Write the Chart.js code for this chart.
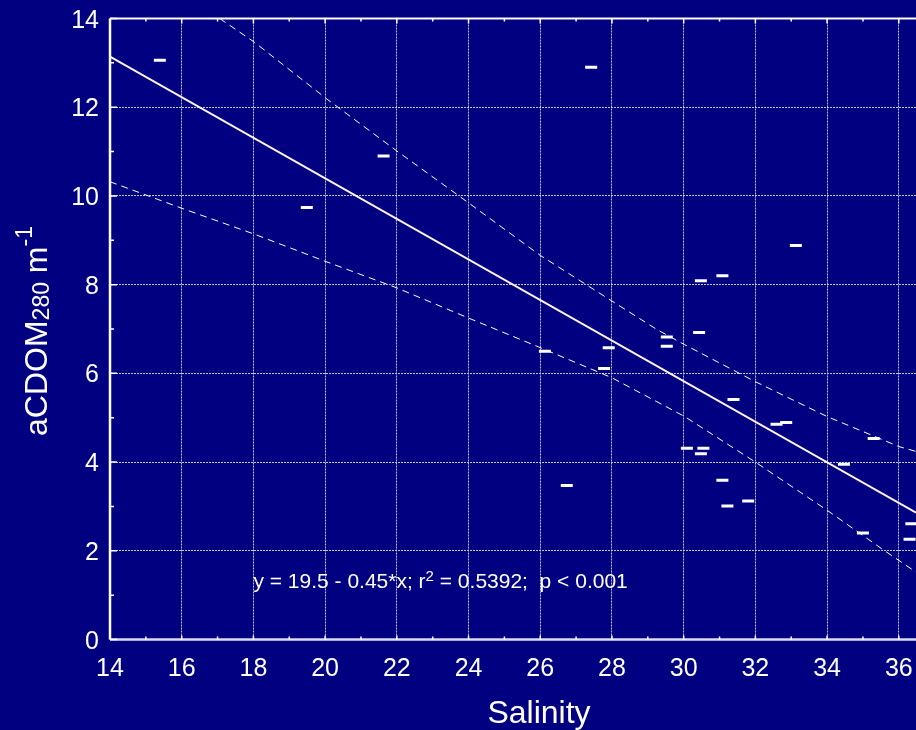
<!DOCTYPE html>
<html lang="en">
<head>
<meta charset="UTF-8">
<title>aCDOM280 vs Salinity</title>
<script src="https://cdn.jsdelivr.net/npm/chart.js"></script>
<style>
  html, body { margin: 0; padding: 0; background: #000080; }
  #chart { display: block; }
</style>
</head>
<body>
<canvas id="chart" width="916" height="730"></canvas>
<script>
// observed stations: salinity and aCDOM280 (m-1)
const salinity = [15.39, 19.49, 21.63, 27.42, 26.13, 26.74, 27.78, 27.91, 29.53, 29.53,
                  30.43, 30.48, 31.08, 33.13, 30.09, 30.55, 30.48, 31.39, 32.59, 32.86,
                  31.08, 31.22, 31.80, 35.30, 34.47, 35.00, 36.35, 36.30];
const acdom    = [13.06, 9.74, 10.90, 12.90, 6.50, 3.47, 6.11, 6.58, 6.82, 6.61,
                  6.92, 8.09, 8.20, 8.88, 4.31, 4.31, 4.19, 5.41, 4.85, 4.89,
                  3.59, 3.01, 3.12, 4.53, 3.95, 2.40, 2.61, 2.26];

// regression line (y = 19.5 - 0.45*x), end points
const fitX = [14, 36.48];
const fitY = [13.14, 2.86];

// 95% confidence band
const upperX = [17.06, 18.02, 20.04, 21.99, 23.99, 26.0, 28.0, 29.25, 30.02, 31.98, 33.99, 36.0, 36.48];
const upperY = [14.0, 13.47, 12.19, 11.02, 9.85, 8.66, 7.63, 6.99, 6.65, 5.82, 5.03, 4.35, 4.24];
const lowerX = [14.0, 16.01, 18.02, 19.99, 21.99, 23.99, 26.0, 28.0, 30.02, 31.98, 33.99, 35.57, 36.48];
const lowerY = [10.32, 9.72, 9.14, 8.53, 7.93, 7.25, 6.58, 5.90, 5.03, 4.01, 2.92, 2.02, 1.52];

// axes
const xTicks = [14, 16, 18, 20, 22, 24, 26, 28, 30, 32, 34, 36];
const yTicks = [0, 2, 4, 6, 8, 10, 12, 14];
const xMinor = [15, 17, 19, 21, 23, 25, 27, 29, 31, 33, 35];
const yMinor = [1, 3, 5, 7, 9, 11, 13];

// texts
const xTitle = 'Salinity';
const yTitle = [['aCDOM', 0], ['280', 1], [' m', 0], ['-1', 2]]; // 0 normal, 1 sub, 2 sup
const fitLabel = [['y = 19.5 - 0.45*x; r', 0], ['2', 2], [' = 0.5392;  p < 0.001', 0]];

const FONT = '"Liberation Sans", Arial, sans-serif';

function pts(xs, ys) {
    return xs.map((v, i) => ({ x: v, y: ys[i] }));
}

// draw a run of normal / sub / sup pieces, returns width
function runs(ctx, parts, x, y, size, small, subDy, supDy, measureOnly) {
    let w = 0;
    parts.forEach(([t, kind]) => {
        ctx.font = (kind ? small : size) + 'px ' + FONT;
        const dy = kind === 1 ? subDy : kind === 2 ? supDy : 0;
        if (!measureOnly) ctx.fillText(t, x + w, y + dy);
        w += ctx.measureText(t).width;
    });
    return w;
}

const decor = {
    id: 'decor',
    afterDraw(chart) {
        const { ctx, chartArea: a, scales: { x, y } } = chart;
        ctx.save();

        // frame
        ctx.strokeStyle = '#ffffff';
        ctx.lineWidth = 2;
        ctx.beginPath();
        ctx.moveTo(a.right, a.top);
        ctx.lineTo(a.left, a.top);
        ctx.stroke();
        ctx.lineWidth = 2.5;
        ctx.beginPath();
        ctx.moveTo(a.left, a.top);
        ctx.lineTo(a.left, a.bottom);
        ctx.stroke();
        ctx.strokeStyle = '#dcdcf0';
        ctx.beginPath();
        ctx.moveTo(a.left, a.bottom);
        ctx.lineTo(a.right, a.bottom);
        ctx.stroke();

        // inward ticks
        ctx.strokeStyle = '#ffffff';
        ctx.lineWidth = 1.5;
        ctx.beginPath();
        xTicks.concat(xMinor).forEach(v => {
            const px = x.getPixelForValue(v);
            const major = xTicks.includes(v);
            ctx.moveTo(px, a.bottom);
            ctx.lineTo(px, a.bottom - (major ? 4 : 3));
            ctx.moveTo(px, a.top);
            ctx.lineTo(px, a.top + (major ? 5 : 3));
        });
        yTicks.concat(yMinor).forEach(v => {
            const py = y.getPixelForValue(v);
            const major = yTicks.includes(v);
            ctx.moveTo(a.left, py);
            ctx.lineTo(a.left + (major ? 7 : 4), py);
        });
        ctx.stroke();

        ctx.fillStyle = '#ffffff';
        ctx.textBaseline = 'alphabetic';

        // tick labels
        ctx.font = '25px ' + FONT;
        ctx.textAlign = 'center';
        xTicks.forEach(v => ctx.fillText(String(v), x.getPixelForValue(v), a.bottom + 36));
        ctx.textAlign = 'right';
        yTicks.forEach(v => ctx.fillText(String(v), a.left - 11, y.getPixelForValue(v) + 9));

        // regression text
        ctx.textAlign = 'left';
        runs(ctx, fitLabel, x.getPixelForValue(18), y.getPixelForValue(1.15), 21, 15, 0, -7);

        // x title
        ctx.font = '32px ' + FONT;
        ctx.textAlign = 'center';
        ctx.fillText(xTitle, 539, 723);

        // y title, rotated
        ctx.textAlign = 'left';
        ctx.translate(47, 331);
        ctx.rotate(-Math.PI / 2);
        const w = runs(ctx, yTitle, 0, 0, 32, 23, 2, -15, true);
        runs(ctx, yTitle, -w / 2, 0, 32, 23, 2, -15);

        ctx.restore();
    }
};

new Chart(document.getElementById('chart'), {
    type: 'scatter',
    data: {
        datasets: [
            {
                data: pts(upperX, upperY),
                showLine: true,
                borderColor: '#ffffff',
                borderWidth: 1,
                borderDash: [7, 5],
                pointRadius: 0,
                tension: 0
            },
            {
                data: pts(lowerX, lowerY),
                showLine: true,
                borderColor: '#ffffff',
                borderWidth: 1,
                borderDash: [7, 5],
                pointRadius: 0,
                tension: 0
            },
            {
                data: pts(fitX, fitY),
                showLine: true,
                borderColor: '#fff4f0',
                borderWidth: 1.8,
                pointRadius: 0
            },
            {
                data: pts(salinity, acdom),
                pointStyle: 'line',
                pointRadius: 6,
                pointBorderWidth: 3,
                pointBorderColor: '#ffffff',
                pointBackgroundColor: '#ffffff'
            }
        ]
    },
    options: {
        responsive: false,
        animation: false,
        events: [],
        layout: { autoPadding: false, padding: { top: 18.5, right: 0, left: 0, bottom: 0 } },
        plugins: {
            legend: { display: false },
            tooltip: { enabled: false }
        },
        scales: {
            x: {
                type: 'linear',
                min: 14,
                max: 36.48,
                afterBuildTicks: s => { s.ticks = xTicks.map(v => ({ value: v })); },
                afterFit: s => { s.height = 90.5; },
                grid: { color: '#c4c4d8', lineWidth: 1, drawTicks: false },
                border: { display: false, dash: [2, 1] },
                ticks: { display: false }
            },
            y: {
                type: 'linear',
                min: 0,
                max: 14,
                afterBuildTicks: s => { s.ticks = yTicks.map(v => ({ value: v })); },
                afterFit: s => { s.width = 110; },
                grid: { color: '#c4c4d8', lineWidth: 1, drawTicks: false },
                border: { display: false, dash: [2, 1] },
                ticks: { display: false }
            }
        }
    },
    plugins: [decor]
});
</script>
</body>
</html>
